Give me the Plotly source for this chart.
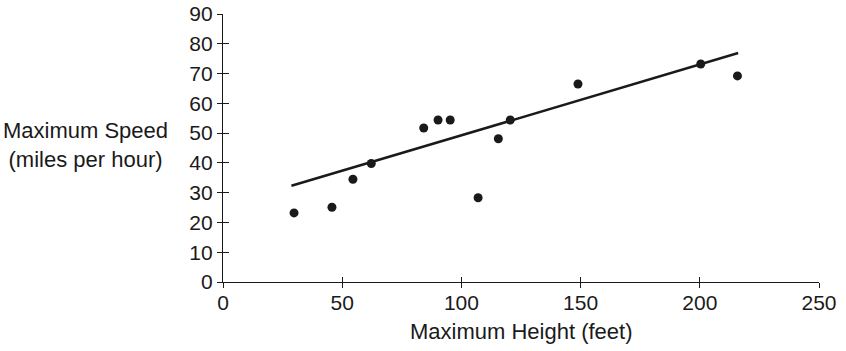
import plotly.graph_objects as go

heights = [29.8, 45.7, 54.5, 62.2, 84.2, 90.2, 95.3, 107.0, 115.5, 120.5, 148.9, 200.4, 215.8]
speeds = [23.2, 25.1, 34.5, 39.8, 51.7, 54.4, 54.4, 28.3, 48.1, 54.4, 66.5, 73.2, 69.2]
fit_x = [28.7, 216.1]
fit_y = [32.3, 76.9]
x_ticks = [0, 50, 100, 150, 200, 250]
y_ticks = [0, 10, 20, 30, 40, 50, 60, 70, 80, 90]
x_title = "Maximum Height (feet)"
y_title = "Maximum Speed<br>(miles per hour)"

FONT = "Liberation Sans, Arial, Helvetica, sans-serif"
INK = "#1a1a1a"

fig = go.Figure()
fig.add_trace(go.Scatter(x=fit_x, y=fit_y, mode="lines",
                         line=dict(color=INK, width=2.5), hoverinfo="skip"))
fig.add_trace(go.Scatter(x=heights, y=speeds, mode="markers",
                         marker=dict(color=INK, size=9), hoverinfo="skip"))
fig.add_trace(go.Scatter(x=[], y=[], xaxis="x2", yaxis="y2", hoverinfo="skip"))

common = dict(showgrid=False, zeroline=False, color=INK, tickcolor=INK,
              tickwidth=1.2, automargin=False)
fig.update_layout(
    template="none",
    width=846, height=351,
    margin=dict(l=223, r=27, t=14, b=69, pad=0),
    paper_bgcolor="white", plot_bgcolor="white",
    showlegend=False,
    font=dict(family=FONT, size=21, color=INK),
    xaxis=dict(range=[0, 250], tickvals=x_ticks, ticks="outside", ticklen=5,
               ticklabelstandoff=-3,
               showline=True, linecolor=INK, linewidth=1.3, **common),
    yaxis=dict(range=[0, 90], tickvals=y_ticks, ticks="outside", ticklen=5,
               showline=True, linecolor=INK, linewidth=1.3, **common),
    xaxis2=dict(range=[0, 250], tickvals=x_ticks, ticks="inside", ticklen=5,
                overlaying="x", anchor="y", side="bottom", showticklabels=False,
                showline=False, **common),
    yaxis2=dict(range=[0, 90], tickvals=y_ticks, ticks="inside", ticklen=6,
                overlaying="y", anchor="x", side="left", showticklabels=False,
                showline=False, **common),
    annotations=[
        dict(text=x_title, xref="paper", yref="paper", x=0.5, y=-0.184,
             xanchor="center", yanchor="middle", showarrow=False,
             font=dict(family=FONT, size=22, color=INK)),
        dict(text=y_title, xref="paper", yref="paper", x=-0.231, y=0.512,
             xanchor="center", yanchor="middle", showarrow=False,
             font=dict(family=FONT, size=22, color=INK)),
    ],
)

fig.write_html("out.html")
